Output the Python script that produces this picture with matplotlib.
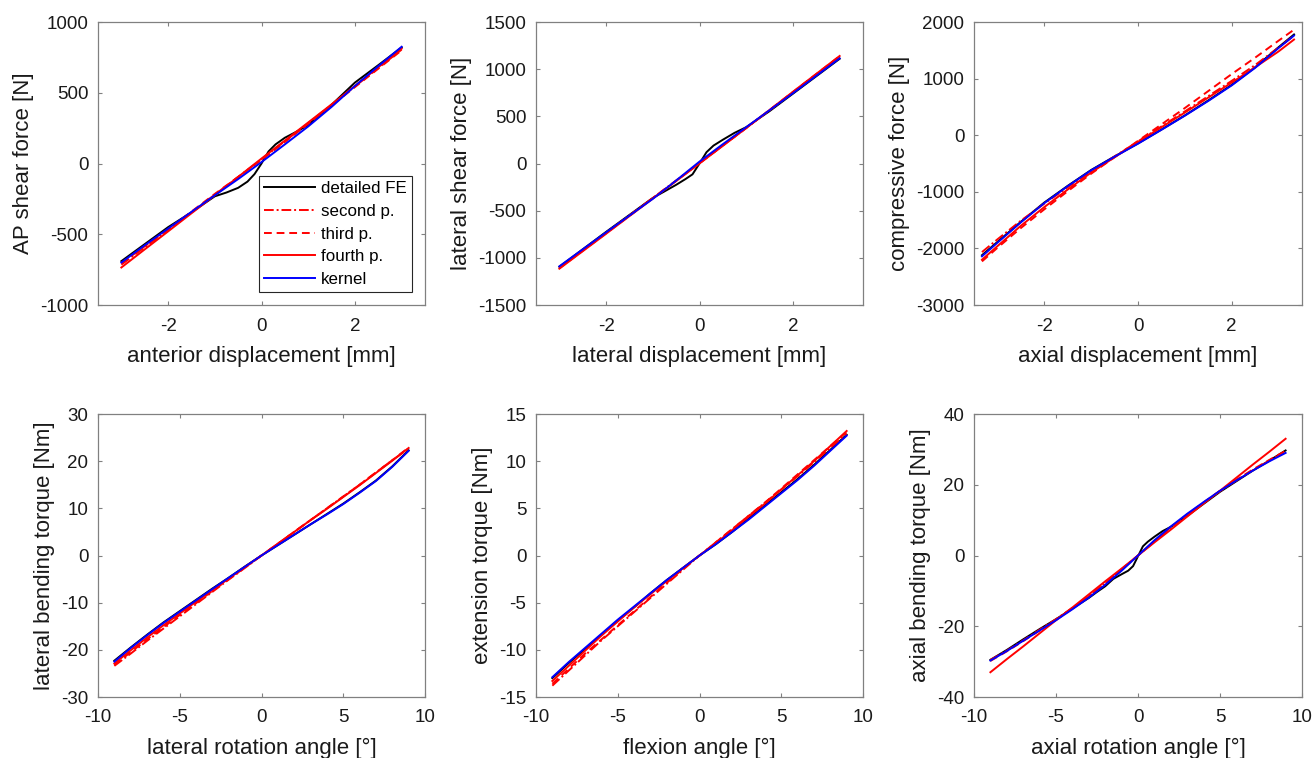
import matplotlib
matplotlib.use("Agg")
import matplotlib.pyplot as plt

plt.rcParams['font.family'] = ['Liberation Sans', 'DejaVu Sans']

# ---------------- data ----------------
series_names = ["detailed FE", "second p.", "third p.", "fourth p.", "kernel"]

# Panel 1: AP shear
x_fe1 = [-3, -2.5, -2, -1.5, -1, -0.75, -0.5, -0.3, -0.15, 0, 0.15, 0.3, 0.5, 0.75, 1, 1.5, 2, 2.5, 3]
fe1 = [-690, -570, -450, -345, -232, -205, -172, -128, -75, 0, 85, 135, 182, 225, 272, 415, 572, 695, 820]
x_m1 = [-3, -2.5, -2, -1.5, -1, -0.5, 0, 0.5, 1, 1.5, 2, 2.5, 3]
sec1 = [-715, -592, -470, -345, -220, -95, 30, 158, 285, 415, 545, 675, 805]
thi1 = [-705, -585, -465, -340, -215, -95, 25, 152, 280, 410, 540, 670, 800]
fou1 = [-735, -607, -480, -352, -225, -95, 35, 162, 290, 418, 548, 680, 812]
ker1 = [-700, -578, -460, -342, -225, -110, 10, 135, 262, 400, 548, 688, 825]

# Panel 2: lateral shear
x_fe2 = [-3, -2.5, -2, -1.5, -1, -0.75, -0.5, -0.3, -0.15, 0, 0.15, 0.3, 0.5, 0.75, 1, 1.5, 2, 2.5, 3]
fe2 = [-1095, -910, -725, -545, -365, -296, -226, -165, -115, 0, 120, 190, 252, 325, 385, 555, 740, 925, 1110]
x_m2 = [-3, -2.5, -2, -1.5, -1, -0.5, 0, 0.5, 1, 1.5, 2, 2.5, 3]
sec2 = [-1105, -920, -735, -550, -365, -180, 5, 190, 378, 565, 755, 942, 1130]
thi2 = [-1110, -925, -740, -555, -368, -183, 3, 190, 376, 567, 758, 948, 1138]
fou2 = [-1115, -930, -745, -558, -372, -186, 0, 188, 375, 568, 760, 950, 1140]
ker2 = [-1090, -910, -730, -552, -375, -180, 20, 205, 385, 565, 745, 930, 1115]

# Panel 3: compressive
x_m3 = [-3.33, -3, -2.5, -2, -1.5, -1, -0.5, 0, 0.5, 1, 1.5, 2, 2.5, 3, 3.33]
fe3 = [-2120, -1885, -1530, -1190, -895, -615, -375, -145, 100, 350, 615, 890, 1200, 1555, 1780]
sec3 = [-2065, -1840, -1510, -1210, -920, -640, -375, -110, 155, 420, 690, 960, 1240, 1550, 1760]
thi3 = [-2230, -1990, -1640, -1310, -990, -680, -390, -100, 190, 480, 780, 1080, 1370, 1670, 1865]
fou3 = [-2200, -1960, -1600, -1270, -960, -660, -390, -120, 140, 400, 665, 930, 1200, 1480, 1690]
ker3 = [-2140, -1900, -1540, -1200, -900, -620, -380, -150, 95, 345, 605, 880, 1190, 1540, 1760]

# Panel 4: lateral bending
x_m4 = [-9, -8, -7, -6, -5, -4, -3, -2, -1, 0, 1, 2, 3, 4, 5, 6, 7, 8, 9]
fe4 = [-22.3, -19.5, -16.8, -14.2, -11.8, -9.4, -7.0, -4.7, -2.3, 0, 2.2, 4.4, 6.6, 8.8, 11.0, 13.4, 15.9, 18.9, 22.3]
sec4 = [-23.4, -20.8, -18.1, -15.5, -12.9, -10.3, -7.7, -5.1, -2.6, 0, 2.5, 5.0, 7.5, 10.0, 12.5, 15.0, 17.6, 20.2, 22.7]
thi4 = [-23.2, -20.5, -17.8, -15.2, -12.6, -10.1, -7.5, -5.0, -2.5, 0, 2.5, 5.0, 7.5, 10.0, 12.5, 15.0, 17.6, 20.2, 22.9]
fou4 = [-22.9, -20.1, -17.4, -14.8, -12.3, -9.8, -7.3, -4.9, -2.4, 0, 2.5, 5.0, 7.5, 9.9, 12.4, 14.9, 17.5, 20.1, 22.8]
ker4 = [-22.5, -19.6, -16.9, -14.3, -11.9, -9.5, -7.1, -4.7, -2.35, 0, 2.2, 4.4, 6.6, 8.7, 10.9, 13.3, 15.8, 18.8, 22.2]

# Panel 5: extension
x_m5 = [-9, -8, -7, -6, -5, -4, -3, -2, -1, 0, 1, 2, 3, 4, 5, 6, 7, 8, 9]
fe5 = [-13.0, -11.4, -9.9, -8.4, -6.9, -5.5, -4.0, -2.6, -1.3, 0, 1.2, 2.5, 3.9, 5.3, 6.7, 8.1, 9.6, 11.2, 12.8]
sec5 = [-13.8, -12.2, -10.6, -9.0, -7.5, -6.0, -4.5, -3.0, -1.5, 0, 1.4, 2.8, 4.2, 5.6, 7.0, 8.4, 9.9, 11.4, 12.9]
thi5 = [-13.6, -12.0, -10.4, -8.9, -7.4, -5.9, -4.4, -2.9, -1.4, 0, 1.4, 2.8, 4.2, 5.6, 7.1, 8.6, 10.1, 11.6, 13.1]
fou5 = [-13.3, -11.7, -10.1, -8.5, -7.0, -5.5, -4.1, -2.7, -1.3, 0, 1.3, 2.7, 4.1, 5.5, 7.0, 8.5, 10.0, 11.6, 13.2]
ker5 = [-12.9, -11.3, -9.8, -8.3, -6.8, -5.4, -4.0, -2.6, -1.3, 0, 1.2, 2.5, 3.8, 5.2, 6.6, 8.0, 9.5, 11.1, 12.7]

# Panel 6: axial bending
x_fe6 = [-9, -8, -7, -6, -5, -4, -3, -2.5, -2, -1.5, -1, -0.6, -0.3, 0, 0.3, 0.6, 1, 1.5, 2, 2.5, 3, 4, 5, 6, 7, 8, 9]
fe6 = [-29.5, -26.7, -23.7, -20.8, -18.0, -15.0, -12.0, -10.3, -8.7, -6.6, -5.3, -4.3, -3.0, -0.2, 2.6, 3.9, 5.3, 6.9, 8.1, 9.6, 11.2, 14.6, 18.0, 21.0, 24.0, 26.8, 29.7]
x_m6 = [-9, -8, -7, -6, -5, -4, -3, -2, -1, 0, 1, 2, 3, 4, 5, 6, 7, 8, 9]
sec6 = [-29.5, -26.9, -24.0, -21.0, -18.0, -14.8, -11.5, -7.9, -3.9, 0, 3.9, 7.9, 11.5, 14.9, 18.2, 21.2, 24.1, 26.8, 29.4]
thi6 = [-29.8, -27.1, -24.2, -21.2, -18.2, -15.0, -11.6, -8.0, -4.0, 0, 4.0, 8.0, 11.6, 15.0, 18.3, 21.4, 24.3, 27.0, 29.6]
fou6 = [-33.0, -29.3, -25.7, -22.0, -18.3, -14.7, -11.0, -7.3, -3.7, 0, 3.7, 7.3, 11.0, 14.7, 18.3, 22.0, 25.7, 29.3, 33.0]
ker6 = [-29.7, -27.0, -24.1, -21.2, -18.3, -15.2, -11.9, -8.3, -4.3, 0, 4.3, 8.2, 11.8, 15.1, 18.3, 21.2, 24.0, 26.6, 29.0]

xlabels = ["anterior displacement [mm]", "lateral displacement [mm]", "axial displacement [mm]",
           "lateral rotation angle [°]", "flexion angle [°]", "axial rotation angle [°]"]
ylabels = ["AP shear force [N]", "lateral shear force [N]", "compressive force [N]",
           "lateral bending torque [Nm]", "extension torque [Nm]", "axial bending torque [Nm]"]
xticks_top = [-2, 0, 2]
xticks_bot = [-10, -5, 0, 5, 10]
yticks_list = [[-1000, -500, 0, 500, 1000], [-1500, -1000, -500, 0, 500, 1000, 1500],
               [-3000, -2000, -1000, 0, 1000, 2000], [-30, -20, -10, 0, 10, 20, 30],
               [-15, -10, -5, 0, 5, 10, 15], [-40, -20, 0, 20, 40]]

panels = [
    (x_fe1, fe1, x_m1, sec1, thi1, fou1, ker1),
    (x_fe2, fe2, x_m2, sec2, thi2, fou2, ker2),
    (x_m3, fe3, x_m3, sec3, thi3, fou3, ker3),
    (x_m4, fe4, x_m4, sec4, thi4, fou4, ker4),
    (x_m5, fe5, x_m5, sec5, thi5, fou5, ker5),
    (x_fe6, fe6, x_m6, sec6, thi6, fou6, ker6),
]

# ---------------- figure ----------------
W, H = 1314, 758
fig = plt.figure(figsize=(W / 100, H / 100), dpi=100)

lefts = [98, 536, 974]
widths = [327, 327, 328]
tops = [22, 414]
height = 283

spine_col = '#808080'
txt_col = '#1a1a1a'
lw = 1.4
for i, (xf, yf, xm, ys, yt, yfo, yk) in enumerate(panels):
    r, c = divmod(i, 3)
    ax = fig.add_axes([lefts[c] / W, 1 - (tops[r] + height) / H, widths[c] / W, height / H])
    ax.plot(xf, yf, color='black', lw=lw, label=series_names[0])
    ax.plot(xm, ys, color='red', lw=lw, ls=(0, (5, 1.5, 1, 1.5)), label=series_names[1])
    ax.plot(xm, yt, color='red', lw=lw, ls=(0, (4, 2.5)), label=series_names[2])
    ax.plot(xm, yfo, color='red', lw=lw, ls='-', label=series_names[3])
    ax.plot(xm, yk, color='blue', lw=lw, ls='-', label=series_names[4])

    if r == 0:
        ax.set_xlim(-3.5, 3.5)
        ax.set_xticks(xticks_top)
        ax.set_xticklabels([str(v) for v in xticks_top])
    else:
        ax.set_xlim(-10, 10)
        ax.set_xticks(xticks_bot)
        ax.set_xticklabels([str(v) for v in xticks_bot])
    yt_ = yticks_list[i]
    ax.set_ylim(yt_[0], yt_[-1])
    ax.set_yticks(yt_)
    ax.set_yticklabels([str(v) for v in yt_])

    for s in ax.spines.values():
        s.set_color(spine_col)
        s.set_linewidth(0.9)
    ax.tick_params(direction='in', length=3, width=0.8, color=spine_col,
                   top=True, right=True, labelsize=13.5, labelcolor=txt_col)
    ax.tick_params(axis='y', pad=7)
    ax.tick_params(axis='x', pad=9)
    ax.set_xlabel(xlabels[i], fontsize=16, labelpad=8, color=txt_col)
    ax.set_ylabel(ylabels[i], fontsize=16, labelpad=4, color=txt_col)

    if i == 0:
        leg = ax.legend(loc='lower right', bbox_to_anchor=(0.96, 0.046), fontsize=12.2,
                        fancybox=False, framealpha=1, edgecolor='#262626',
                        handlelength=3.0, handletextpad=0.35, labelspacing=0.45,
                        borderpad=0.3, borderaxespad=0)
        leg.get_frame().set_linewidth(0.8)

fig.savefig('out.png', dpi=100)
